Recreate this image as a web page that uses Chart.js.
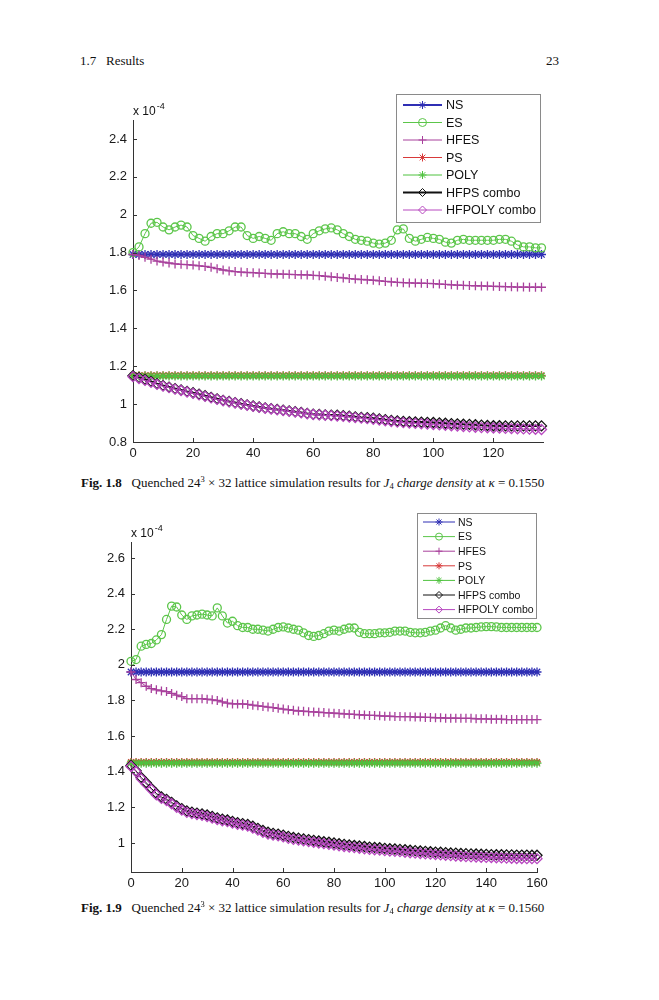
<!DOCTYPE html>
<html>
<head>
<meta charset="utf-8">
<script src="https://cdn.jsdelivr.net/npm/chart.js@4.4.1/dist/chart.umd.min.js"></script>
<style>
body { margin: 0; background: #fff; width: 659px; height: 1000px; position: relative; overflow: hidden;
       font-family: "Liberation Serif", "Times New Roman", serif; color: #111; }
.hdr { position: absolute; top: 54px; font-size: 13px; line-height: 1; }
canvas { position: absolute; left: 0; }
.cap { position: absolute; left: 81px; font-size: 13px; line-height: 1; white-space: nowrap; }
.cap .sp { font-size: 8.5px; position: relative; top: -5px; }
.cap .sb { font-size: 8.5px; position: relative; top: 2px; }
</style>
</head>
<body>
<div class="hdr" style="left:80px">1.7&nbsp;&nbsp;&nbsp;Results</div>
<div class="hdr" style="left:546px">23</div>

<canvas id="fig18" width="659" height="390" style="top:80px"></canvas>
<div class="cap" style="top:476px"><b>Fig. 1.8</b>&nbsp;&nbsp; Quenched 24<span class="sp">3</span> × 32 lattice simulation results for <i>J</i><span class="sb">4</span> <i>charge density</i> at <i>κ</i> = 0.1550</div>

<canvas id="fig19" width="659" height="400" style="top:500px"></canvas>
<div class="cap" style="top:901px"><b>Fig. 1.9</b>&nbsp;&nbsp; Quenched 24<span class="sp">3</span> × 32 lattice simulation results for <i>J</i><span class="sb">4</span> <i>charge density</i> at <i>κ</i> = 0.1560</div>

<script>
// ---- Fig 1.8 (kappa = 0.1550), values in units of 1e-4 ----
const steps18 = [0,2,4,6,8,10,12,14,16,18,20,22,24,26,28,30,32,34,36,38,40,42,44,46,48,50,52,54,56,58,
  60,62,64,66,68,70,72,74,76,78,80,82,84,86,88,90,92,94,96,98,100,102,104,106,108,110,112,114,116,118,
  120,122,124,126,128,130,132,134,136];
const ns18 = [1.79,1.79,1.79,1.79,1.79,1.79,1.79,1.79,1.79,1.79,1.79,1.79,1.79,1.79,1.79,1.79,1.79,1.79,1.79,1.79,
  1.79,1.79,1.79,1.79,1.79,1.79,1.79,1.79,1.79,1.79,1.79,1.79,1.79,1.79,1.79,1.79,1.79,1.79,1.79,1.79,
  1.79,1.79,1.79,1.79,1.79,1.79,1.79,1.79,1.79,1.79,1.79,1.79,1.79,1.79,1.79,1.79,1.79,1.79,1.79,1.79,
  1.79,1.79,1.79,1.79,1.79,1.79,1.79,1.79,1.79];
const es18 = [1.80,1.83,1.90,1.955,1.96,1.935,1.92,1.935,1.945,1.935,1.89,1.875,1.86,1.885,1.90,1.90,1.915,1.935,1.935,1.89,
  1.875,1.885,1.875,1.865,1.90,1.91,1.90,1.90,1.885,1.87,1.90,1.915,1.925,1.93,1.92,1.90,1.885,1.87,1.865,1.86,
  1.85,1.845,1.85,1.865,1.92,1.925,1.875,1.86,1.87,1.88,1.875,1.87,1.855,1.85,1.865,1.87,1.865,1.865,1.865,1.865,
  1.865,1.87,1.87,1.86,1.84,1.83,1.83,1.825,1.825];
const hfes18 = [1.79,1.785,1.775,1.765,1.755,1.75,1.745,1.74,1.738,1.736,1.734,1.73,1.727,1.722,1.715,1.708,1.703,1.70,1.697,1.695,
  1.694,1.692,1.69,1.688,1.687,1.686,1.685,1.684,1.683,1.682,1.68,1.678,1.675,1.672,1.669,1.666,1.663,1.66,1.658,1.656,
  1.654,1.651,1.648,1.645,1.643,1.641,1.64,1.639,1.638,1.637,1.636,1.634,1.632,1.63,1.628,1.627,1.626,1.625,1.624,1.623,
  1.622,1.621,1.62,1.619,1.618,1.618,1.617,1.617,1.617];
const ps18 = [1.152,1.152,1.152,1.152,1.152,1.152,1.152,1.152,1.152,1.152,1.152,1.152,1.152,1.152,1.152,1.152,1.152,1.152,1.152,1.152,
  1.152,1.152,1.152,1.152,1.152,1.152,1.152,1.152,1.152,1.152,1.152,1.152,1.152,1.152,1.152,1.152,1.152,1.152,1.152,1.152,
  1.152,1.152,1.152,1.152,1.152,1.152,1.152,1.152,1.152,1.152,1.152,1.152,1.152,1.152,1.152,1.152,1.152,1.152,1.152,1.152,
  1.152,1.152,1.152,1.152,1.152,1.152,1.152,1.152,1.152];
const poly18 = [1.148,1.148,1.148,1.148,1.148,1.148,1.148,1.148,1.148,1.148,1.148,1.148,1.148,1.148,1.148,1.148,1.148,1.148,1.148,1.148,
  1.148,1.148,1.148,1.148,1.148,1.148,1.148,1.148,1.148,1.148,1.148,1.148,1.148,1.148,1.148,1.148,1.148,1.148,1.148,1.148,
  1.148,1.148,1.148,1.148,1.148,1.148,1.148,1.148,1.148,1.148,1.148,1.148,1.148,1.148,1.148,1.148,1.148,1.148,1.148,1.148,
  1.148,1.148,1.148,1.148,1.148,1.148,1.148,1.148,1.148];
const hfps18 = [1.15,1.14,1.13,1.12,1.108,1.098,1.09,1.082,1.075,1.067,1.06,1.052,1.044,1.036,1.028,1.02,1.014,1.008,1.002,0.996,
  0.99,0.985,0.98,0.976,0.972,0.968,0.964,0.96,0.956,0.951,0.947,0.945,0.943,0.942,0.941,0.939,0.936,0.933,0.93,0.928,
  0.926,0.922,0.918,0.914,0.911,0.908,0.907,0.906,0.905,0.904,0.903,0.901,0.899,0.897,0.896,0.894,0.893,0.891,0.889,0.887,
  0.886,0.886,0.885,0.885,0.885,0.885,0.885,0.885,0.885];
const hfpoly18 = [1.145,1.135,1.125,1.115,1.104,1.095,1.087,1.079,1.072,1.064,1.057,1.049,1.041,1.033,1.025,1.018,1.012,1.006,1.0,0.994,
  0.988,0.983,0.978,0.974,0.97,0.966,0.962,0.958,0.954,0.949,0.945,0.943,0.941,0.939,0.937,0.935,0.932,0.929,0.926,0.923,
  0.92,0.916,0.912,0.908,0.905,0.902,0.9,0.898,0.896,0.894,0.892,0.89,0.888,0.886,0.884,0.882,0.88,0.878,0.876,0.875,
  0.874,0.873,0.872,0.871,0.87,0.869,0.868,0.867,0.866];
const xTicks18 = [0, 20, 40, 60, 80, 100, 120];
const yTicks18 = [0.8, 1, 1.2, 1.4, 1.6, 1.8, 2, 2.2, 2.4];

// ---- Fig 1.9 (kappa = 0.1560) ----
const steps19 = [0,2,4,6,8,10,12,14,16,18,20,22,24,26,28,30,32,34,36,38,40,42,44,46,48,50,52,54,56,58,
  60,62,64,66,68,70,72,74,76,78,80,82,84,86,88,90,92,94,96,98,100,102,104,106,108,110,112,114,116,118,
  120,122,124,126,128,130,132,134,136,138,140,142,144,146,148,150,152,154,156,158,160];
const ns19 = [1.96,1.96,1.96,1.96,1.96,1.96,1.96,1.96,1.96,1.96,1.96,1.96,1.96,1.96,1.96,1.96,1.96,1.96,1.96,1.96,
  1.96,1.96,1.96,1.96,1.96,1.96,1.96,1.96,1.96,1.96,1.96,1.96,1.96,1.96,1.96,1.96,1.96,1.96,1.96,1.96,
  1.96,1.96,1.96,1.96,1.96,1.96,1.96,1.96,1.96,1.96,1.96,1.96,1.96,1.96,1.96,1.96,1.96,1.96,1.96,1.96,
  1.96,1.96,1.96,1.96,1.96,1.96,1.96,1.96,1.96,1.96,1.96,1.96,1.96,1.96,1.96,1.96,1.96,1.96,1.96,1.96,1.96];
const es19 = [2.02,2.03,2.105,2.115,2.12,2.14,2.17,2.255,2.33,2.325,2.28,2.255,2.275,2.28,2.285,2.28,2.275,2.32,2.275,2.235,
  2.245,2.22,2.21,2.21,2.20,2.20,2.195,2.19,2.20,2.21,2.213,2.207,2.20,2.195,2.18,2.165,2.16,2.165,2.175,2.19,
  2.195,2.19,2.20,2.207,2.207,2.183,2.175,2.175,2.175,2.18,2.18,2.183,2.19,2.19,2.19,2.183,2.18,2.18,2.183,2.19,
  2.195,2.207,2.22,2.207,2.195,2.20,2.207,2.207,2.21,2.213,2.215,2.215,2.213,2.21,2.21,2.21,2.21,2.21,2.21,2.21,2.21];
const hfes19 = [1.96,1.918,1.90,1.88,1.867,1.86,1.854,1.85,1.84,1.83,1.822,1.81,1.81,1.81,1.81,1.807,1.804,1.80,1.792,1.785,
  1.781,1.781,1.781,1.778,1.774,1.77,1.767,1.763,1.76,1.756,1.752,1.748,1.745,1.741,1.74,1.737,1.736,1.734,1.732,1.73,
  1.729,1.727,1.725,1.723,1.722,1.72,1.718,1.716,1.716,1.714,1.712,1.712,1.71,1.71,1.709,1.709,1.707,1.707,1.705,1.705,
  1.703,1.703,1.701,1.701,1.701,1.70,1.70,1.70,1.697,1.697,1.697,1.695,1.695,1.695,1.693,1.693,1.693,1.693,1.693,1.693,1.693];
const ps19 = [1.455,1.455,1.455,1.455,1.455,1.455,1.455,1.455,1.455,1.455,1.455,1.455,1.455,1.455,1.455,1.455,1.455,1.455,1.455,1.455,
  1.455,1.455,1.455,1.455,1.455,1.455,1.455,1.455,1.455,1.455,1.455,1.455,1.455,1.455,1.455,1.455,1.455,1.455,1.455,1.455,
  1.455,1.455,1.455,1.455,1.455,1.455,1.455,1.455,1.455,1.455,1.455,1.455,1.455,1.455,1.455,1.455,1.455,1.455,1.455,1.455,
  1.455,1.455,1.455,1.455,1.455,1.455,1.455,1.455,1.455,1.455,1.455,1.455,1.455,1.455,1.455,1.455,1.455,1.455,1.455,1.455,1.455];
const poly19 = [1.448,1.448,1.448,1.448,1.448,1.448,1.448,1.448,1.448,1.448,1.448,1.448,1.448,1.448,1.448,1.448,1.448,1.448,1.448,1.448,
  1.448,1.448,1.448,1.448,1.448,1.448,1.448,1.448,1.448,1.448,1.448,1.448,1.448,1.448,1.448,1.448,1.448,1.448,1.448,1.448,
  1.448,1.448,1.448,1.448,1.448,1.448,1.448,1.448,1.448,1.448,1.448,1.448,1.448,1.448,1.448,1.448,1.448,1.448,1.448,1.448,
  1.448,1.448,1.448,1.448,1.448,1.448,1.448,1.448,1.448,1.448,1.448,1.448,1.448,1.448,1.448,1.448,1.448,1.448,1.448,1.448,1.448];
const hfps19 = [1.435,1.405,1.368,1.338,1.307,1.278,1.258,1.245,1.228,1.208,1.193,1.18,1.173,1.168,1.163,1.157,1.149,1.141,1.134,1.129,
  1.121,1.114,1.109,1.104,1.094,1.082,1.07,1.06,1.054,1.05,1.044,1.037,1.031,1.027,1.023,1.019,1.015,1.011,1.007,1.004,
  1.0,0.996,0.992,0.989,0.986,0.983,0.98,0.977,0.975,0.973,0.97,0.968,0.966,0.964,0.962,0.959,0.957,0.955,0.953,0.951,
  0.949,0.948,0.946,0.944,0.943,0.941,0.94,0.939,0.938,0.937,0.936,0.935,0.934,0.934,0.933,0.933,0.932,0.932,0.932,0.931,0.931];
const hfpoly19 = [1.43,1.40,1.36,1.33,1.30,1.27,1.25,1.238,1.22,1.20,1.185,1.172,1.165,1.16,1.155,1.148,1.14,1.132,1.125,1.12,
  1.112,1.105,1.10,1.095,1.084,1.072,1.06,1.05,1.044,1.04,1.034,1.026,1.02,1.016,1.012,1.008,1.004,1.0,0.996,0.992,
  0.988,0.984,0.98,0.977,0.974,0.97,0.967,0.964,0.962,0.96,0.957,0.955,0.953,0.951,0.948,0.945,0.943,0.941,0.939,0.937,
  0.935,0.933,0.931,0.929,0.927,0.925,0.923,0.922,0.921,0.92,0.919,0.918,0.917,0.916,0.915,0.914,0.913,0.913,0.912,0.912,0.912];
const xTicks19 = [0, 20, 40, 60, 80, 100, 120, 140, 160];
const yTicks19 = [1, 1.2, 1.4, 1.6, 1.8, 2, 2.2, 2.4, 2.6];

const seriesNames = ["NS", "ES", "HFES", "PS", "POLY", "HFPS combo", "HFPOLY combo"];

// marker look per series (MATLAB-like)
const looks = [
  { color: "#2f2fb4", point: "star",    r: 4.5 },
  { color: "#5cc64a", point: "circle",  r: 4   },
  { color: "#a8409c", point: "cross",   r: 4.5 },
  { color: "#d83a3a", point: "star",    r: 4   },
  { color: "#4fc23e", point: "star",    r: 4.5 },
  { color: "#111111", point: "rectRot", r: 5   },
  { color: "#b848c0", point: "rectRot", r: 5   }
];

const sansFont = "'Liberation Sans', Arial, Helvetica, sans-serif";

function drawMarker(ctx, style, x, y, r) {
  ctx.beginPath();
  if (style === "circle") {
    ctx.arc(x, y, r, 0, Math.PI * 2);
  } else if (style === "rectRot") {
    ctx.moveTo(x, y - r); ctx.lineTo(x + r, y); ctx.lineTo(x, y + r); ctx.lineTo(x - r, y); ctx.closePath();
  } else {
    ctx.moveTo(x - r, y); ctx.lineTo(x + r, y); ctx.moveTo(x, y - r); ctx.lineTo(x, y + r);
    if (style === "star") {
      const d = r * Math.SQRT1_2;
      ctx.moveTo(x - d, y - d); ctx.lineTo(x + d, y + d); ctx.moveTo(x - d, y + d); ctx.lineTo(x + d, y - d);
    }
  }
  ctx.stroke();
}

// boxed legend in the upper right, MATLAB style
const boxLegend = {
  id: "boxLegend",
  afterDraw(chart, args, o) {
    const ctx = chart.ctx;
    ctx.save();
    ctx.fillStyle = "#fff";
    ctx.fillRect(o.x, o.y, o.w, o.h);
    ctx.strokeStyle = "#8a8a8a";
    ctx.lineWidth = 1;
    ctx.strokeRect(o.x + 0.5, o.y + 0.5, o.w, o.h);
    ctx.font = o.fontSize + "px " + sansFont;
    ctx.textBaseline = "middle";
    chart.data.datasets.forEach((ds, i) => {
      const y = o.row0 + i * o.rowStep;
      ctx.strokeStyle = ds.borderColor;
      ctx.lineWidth = ds.borderWidth;
      ctx.beginPath(); ctx.moveTo(o.x1, y); ctx.lineTo(o.x2, y); ctx.stroke();
      ctx.lineWidth = 1;
      drawMarker(ctx, ds.pointStyle, (o.x1 + o.x2) / 2, y, o.markR);
      ctx.fillStyle = "#111";
      ctx.fillText(ds.label, o.textX, y + 1);
    });
    ctx.restore();
  }
};

// inward tick marks + "x 10^-4" multiplier
const matlabAxes = {
  id: "matlabAxes",
  afterDraw(chart) {
    const ctx = chart.ctx, a = chart.chartArea;
    const xs = chart.scales.x, ys = chart.scales.y;
    ctx.save();
    ctx.strokeStyle = "#333";
    ctx.lineWidth = 1;
    ctx.beginPath();
    xs.ticks.forEach(t => {
      const px = Math.round(xs.getPixelForValue(t.value)) + 0.5;
      ctx.moveTo(px, a.bottom); ctx.lineTo(px, a.bottom - 4);
    });
    ys.ticks.forEach(t => {
      const py = Math.round(ys.getPixelForValue(t.value)) + 0.5;
      ctx.moveTo(a.left, py); ctx.lineTo(a.left + 4, py);
    });
    ctx.stroke();
    ctx.fillStyle = "#111";
    ctx.textBaseline = "alphabetic";
    ctx.font = "12px " + sansFont;
    ctx.fillText("x 10", a.left, a.top - 5);
    const w = ctx.measureText("x 10").width;
    ctx.font = "9px " + sansFont;
    ctx.fillText("-4", a.left + w + 1, a.top - 11);
    ctx.restore();
  }
};

function buildChart(id, steps, values, box) {
  const datasets = values.map((vals, i) => ({
    label: seriesNames[i],
    data: steps.map((s, k) => ({ x: s, y: vals[k] })),
    borderColor: looks[i].color,
    borderWidth: box.thick.includes(i) ? 2 : 1,
    pointStyle: looks[i].point,
    pointRadius: looks[i].r,
    pointBorderWidth: 1.3,
    pointBorderColor: looks[i].color,
    pointBackgroundColor: "rgba(0,0,0,0)",
    tension: 0,
    clip: false,
    order: values.length - i
  }));
  return new Chart(document.getElementById(id), {
    type: "line",
    data: { datasets },
    plugins: [matlabAxes, boxLegend],
    options: {
      responsive: false,
      animation: false,
      events: [],
      layout: { padding: box.padding },
      plugins: { legend: { display: false }, tooltip: { enabled: false }, boxLegend: box.legend },
      scales: {
        x: {
          type: "linear", min: box.xMin, max: box.xMax,
          afterBuildTicks: s => { s.ticks = box.xTicks.map(v => ({ value: v })); },
          afterFit: s => { s.height = 24; },
          grid: { display: false, drawTicks: false },
          border: { display: true, color: "#333", width: 1 },
          ticks: { color: "#1a1a1a", padding: 4, maxRotation: 0, font: { family: sansFont, size: 13 } }
        },
        y: {
          type: "linear", min: box.yMin, max: box.yMax,
          afterBuildTicks: s => { s.ticks = box.yTicks.map(v => ({ value: v })); },
          afterFit: s => { s.width = box.yWidth; },
          grid: { display: false, drawTicks: false },
          border: { display: true, color: "#333", width: 1 },
          ticks: { color: "#1a1a1a", padding: 6, font: { family: sansFont, size: 13 },
                   callback: v => String(Math.round(v * 10) / 10) }
        }
      }
    }
  });
}

buildChart("fig18", steps18, [ns18, es18, hfes18, ps18, poly18, hfps18, hfpoly18], {
  xMin: 0, xMax: 136.5, yMin: 0.8, yMax: 2.5, xTicks: xTicks18, yTicks: yTicks18,
  yWidth: 133, padding: { left: 0, top: 40, right: 116, bottom: 4 }, thick: [0, 5],
  legend: { x: 396, y: 14, w: 144, h: 128, row0: 25, rowStep: 17.5, x1: 403, x2: 442, textX: 446,
            fontSize: 12.5, markR: 4 }
});

buildChart("fig19", steps19, [ns19, es19, hfes19, ps19, poly19, hfps19, hfpoly19], {
  xMin: 0, xMax: 160, yMin: 0.837, yMax: 2.69, xTicks: xTicks19, yTicks: yTicks19,
  yWidth: 131, padding: { left: 0, top: 42, right: 122, bottom: 4 }, thick: [],
  legend: { x: 417, y: 13, w: 119, h: 105, row0: 22, rowStep: 14.6, x1: 423, x2: 455, textX: 458,
            fontSize: 10.5, markR: 3.5 }
});
</script>
</body>
</html>
